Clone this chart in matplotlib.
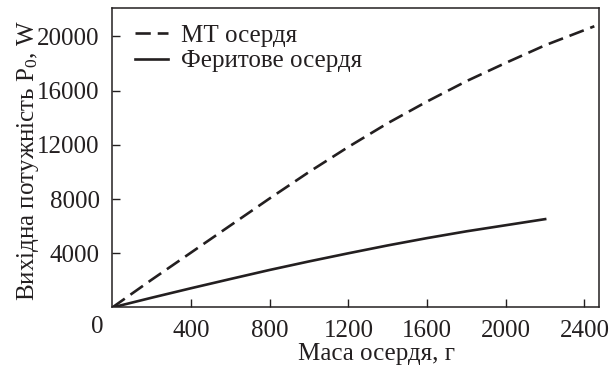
import matplotlib
matplotlib.use("Agg")
import matplotlib.pyplot as plt

# data
mass_mt = [0, 200, 400, 600, 800, 1000, 1200, 1400, 1600, 1800, 2000, 2200, 2450]
power_mt = [0, 2050, 4050, 6050, 8050, 10000, 11850, 13600, 15200, 16700, 18050, 19350, 20750]

mass_fer = [0, 200, 400, 600, 800, 1000, 1200, 1400, 1600, 1800, 2000, 2200]
power_fer = [0, 720, 1420, 2100, 2770, 3400, 4000, 4580, 5120, 5620, 6070, 6520]

x_ticks = [400, 800, 1200, 1600, 2000, 2400]
y_ticks = [4000, 8000, 12000, 16000, 20000]

ink = "#231f20"

plt.rcParams["font.family"] = ["Liberation Serif", "DejaVu Serif"]
plt.rcParams["mathtext.fontset"] = "custom"
plt.rcParams["mathtext.rm"] = "Liberation Serif"
plt.rcParams["mathtext.it"] = "Liberation Serif"
plt.rcParams["font.size"] = 18
plt.rcParams["lines.scale_dashes"] = False

fig = plt.figure(figsize=(6.12, 3.71), dpi=100)
ax = fig.add_axes([0.1835, 0.1712, 0.7947, 0.8073])

ax.plot(mass_mt, power_mt, color=ink, lw=1.9, linestyle=(0, (11, 5)), label="МТ осердя")
ax.plot(mass_fer, power_fer, color=ink, lw=1.9, label="Феритове осердя")

ax.set_xlim(0, 2472)
ax.set_ylim(0, 22100)
ax.set_xticks(x_ticks)
ax.set_yticks(y_ticks)
ax.tick_params(direction="in", length=6, width=1, colors=ink, pad=9,
               top=False, right=False)
for sp in ax.spines.values():
    sp.set_color(ink)
    sp.set_linewidth(1.1)

# shared origin label
ax.annotate("0", xy=(0, 0), xytext=(-15, -20), textcoords="offset pixels",
            ha="center", va="center", color=ink)

ax.set_xlabel("Маса осердя, г", color=ink)
ax.xaxis.set_label_coords(0.544, -0.12)
ax.set_ylabel("Вихідна потужність P$_0$, W", color=ink)
ax.yaxis.set_label_coords(-0.147, 0.49)

leg = ax.legend(loc="upper left", bbox_to_anchor=(0.005, 1.012), frameon=False,
                handlelength=1.35, handletextpad=0.5, labelspacing=0.12,
                borderaxespad=0.4)
for t in leg.get_texts():
    t.set_color(ink)

fig.savefig("out.png", dpi=100)
